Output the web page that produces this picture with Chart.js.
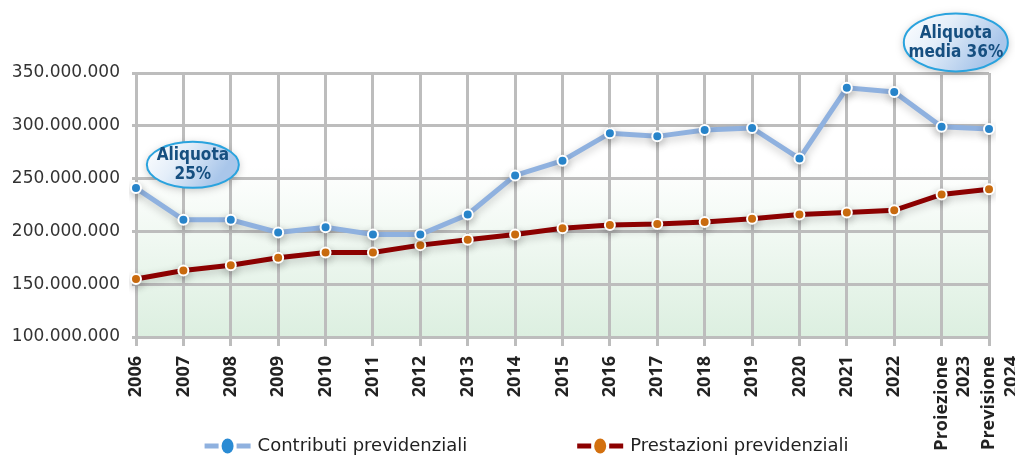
<!DOCTYPE html>
<html>
<head>
<meta charset="utf-8">
<script src="https://cdn.jsdelivr.net/npm/chart.js@4.4.1/dist/chart.umd.min.js"></script>
<style>
  html, body { margin: 0; padding: 0; background: #fff; overflow: hidden; }
  #wrap { width: 1015px; height: 455px; position: relative; }
</style>
</head>
<body>
<div id="wrap"><canvas id="myChart"></canvas></div>
<script>
// data
const years = ['2006', '2007', '2008', '2009', '2010', '2011', '2012', '2013', '2014', '2015',
    '2016', '2017', '2018', '2019', '2020', '2021', '2022', ['Proiezione', '2023'], ['Previsione', '2024']];
const contributi = [241, 211, 211, 199, 204, 197, 197, 216, 253, 267,
    293, 290, 296, 298, 269, 336, 332, 299, 297].map(v => v * 1e6);
const prestazioni = [155, 163, 168, 175, 180, 180, 187, 192, 197, 203,
    206, 207, 209, 212, 216, 218, 220, 235, 240].map(v => v * 1e6);
const yTicks = [100e6, 150e6, 200e6, 250e6, 300e6, 350e6];
const seriesNames = ['Contributi previdenziali', 'Prestazioni previdenziali'];
const notes = [
    { lines: ['Aliquota', '25%'], at: 1.2, value: 263e6 },
    { lines: ['Aliquota', 'media 36%'], at: 17.3, value: 379e6 }
];

function fmt(v) {
    return String(Math.round(v)).replace(/\B(?=(\d{3})+(?!\d))/g, '.');
}

// green fading background inside the plot
const bgPlugin = {
    id: 'bg',
    beforeDraw(chart) {
        const { ctx, chartArea: a, scales } = chart;
        const g = ctx.createLinearGradient(0, scales.y.getPixelForValue(262e6), 0, a.bottom);
        g.addColorStop(0, 'rgba(255,255,255,1)');
        g.addColorStop(1, '#dcefe0');
        ctx.save();
        ctx.fillStyle = g;
        ctx.fillRect(a.left, a.top, a.right - a.left, a.bottom - a.top);
        ctx.restore();
    }
};

// soft shadow under lines
const shadowPlugin = {
    id: 'shadow',
    beforeDatasetsDraw(chart) {
        const ctx = chart.ctx;
        ctx.save();
        ctx.shadowColor = 'rgba(0,0,0,0.22)';
        ctx.shadowBlur = 8;
        ctx.shadowOffsetY = 3;
    },
    afterDatasetsDraw(chart) {
        chart.ctx.restore();
    }
};

// the two "Aliquota" bubbles
const notePlugin = {
    id: 'notes',
    afterDraw(chart) {
        const { ctx, scales } = chart;
        notes.forEach((n, i) => {
            const cx = scales.x.getPixelForValue(n.at);
            const cy = scales.y.getPixelForValue(n.value);
            const rx = i === 0 ? 46 : 52;
            const ry = i === 0 ? 23 : 29;
            ctx.save();
            ctx.shadowColor = 'rgba(0,0,0,0.25)';
            ctx.shadowBlur = 8;
            ctx.shadowOffsetY = 2;
            const g = ctx.createLinearGradient(cx - rx, cy - ry, cx + rx * 0.4, cy + ry);
            g.addColorStop(0, '#ffffff');
            g.addColorStop(0.45, '#e4eef9');
            g.addColorStop(1, '#a9c6ea');
            ctx.beginPath();
            ctx.ellipse(cx, cy, rx, ry, 0, 0, Math.PI * 2);
            ctx.fillStyle = g;
            ctx.fill();
            ctx.shadowColor = 'transparent';
            ctx.lineWidth = 2;
            ctx.strokeStyle = '#2aa3de';
            ctx.stroke();
            ctx.fillStyle = '#164f80';
            ctx.font = 'bold 17px "DejaVu Sans Condensed", "DejaVu Sans", sans-serif';
            ctx.textAlign = 'center';
            ctx.textBaseline = 'middle';
            ctx.fillText(n.lines[0], cx, cy - 9);
            ctx.fillText(n.lines[1], cx, cy + 10);
            ctx.restore();
        });
    }
};

// legend at the bottom: line + dot marker, then the name
const legendPlugin = {
    id: 'bottomLegend',
    afterDraw(chart) {
        const ctx = chart.ctx;
        const y = 446;
        const dots = ['#2a8bd4', '#d3700f'];
        ctx.save();
        ctx.font = '18px "DejaVu Sans", sans-serif';
        const markerW = 46, gapText = 7, gapItems = 110;
        const widths = seriesNames.map(s => ctx.measureText(s).width);
        const total = widths[0] + widths[1] + 2 * (markerW + gapText) + gapItems;
        let x = (chart.width - total) / 2 + 19;
        chart.data.datasets.forEach((ds, i) => {
            ctx.lineWidth = 5;
            ctx.strokeStyle = ds.borderColor;
            ctx.beginPath();
            ctx.moveTo(x, y); ctx.lineTo(x + 14, y);
            ctx.moveTo(x + 32, y); ctx.lineTo(x + markerW, y);
            ctx.stroke();
            ctx.beginPath();
            ctx.ellipse(x + 23, y, 6, 7.5, 0, 0, Math.PI * 2);
            ctx.fillStyle = dots[i];
            ctx.fill();
            ctx.fillStyle = '#222';
            ctx.textAlign = 'left';
            ctx.textBaseline = 'middle';
            ctx.fillText(seriesNames[i], x + markerW + gapText, y);
            x += markerW + gapText + widths[i] + gapItems;
        });
        ctx.restore();
    }
};

const ctx = document.getElementById('myChart').getContext('2d');
const myChart = new Chart(ctx, {
    type: 'line',
    data: {
        labels: years,
        datasets: [
            {
                label: seriesNames[0],
                data: contributi,
                borderColor: '#8fb1df',
                borderWidth: 5,
                pointRadius: 5,
                pointBorderWidth: 2,
                pointBorderColor: '#ffffff',
                pointBackgroundColor: '#2a8bd4',
                tension: 0,
                fill: false
            },
            {
                label: seriesNames[1],
                data: prestazioni,
                borderColor: '#8c0000',
                borderWidth: 5,
                pointRadius: 5,
                pointBorderWidth: 2,
                pointBorderColor: '#ffffff',
                pointBackgroundColor: '#d3700f',
                tension: 0,
                fill: false
            }
        ]
    },
    options: {
        responsive: true,
        maintainAspectRatio: false,
        animation: false,
        layout: { padding: { top: 73, right: 26, left: 0, bottom: 0 } },
        plugins: {
            legend: { display: false },
            tooltip: { enabled: false }
        },
        scales: {
            x: {
                offset: false,
                grid: { color: '#bdbdbd', lineWidth: 3, tickLength: 9 },
                border: { display: false },
                ticks: {
                    minRotation: 90,
                    maxRotation: 90,
                    autoSkip: false,
                    padding: 10,
                    color: '#222',
                    font: { family: '"Open Sans", sans-serif', size: 18, weight: 'bold', lineHeight: 1.25 }
                },
                afterFit(scale) {
                    scale.height = 118;
                    scale.paddingLeft = 0;
                    scale.paddingRight = 0;
                }
            },
            y: {
                min: 100e6,
                max: 350e6,
                grid: { color: '#bdbdbd', lineWidth: 3, tickLength: 4 },
                border: { color: '#bdbdbd', width: 3 },
                afterBuildTicks(scale) { scale.ticks = yTicks.map(v => ({ value: v })); },
                ticks: {
                    padding: 12,
                    color: '#333',
                    font: { family: '"DejaVu Sans", sans-serif', size: 17 },
                    callback: v => fmt(v)
                },
                afterFit(scale) { scale.width = 136; }
            }
        }
    },
    plugins: [bgPlugin, shadowPlugin, notePlugin, legendPlugin]
});
</script>
</body>
</html>
